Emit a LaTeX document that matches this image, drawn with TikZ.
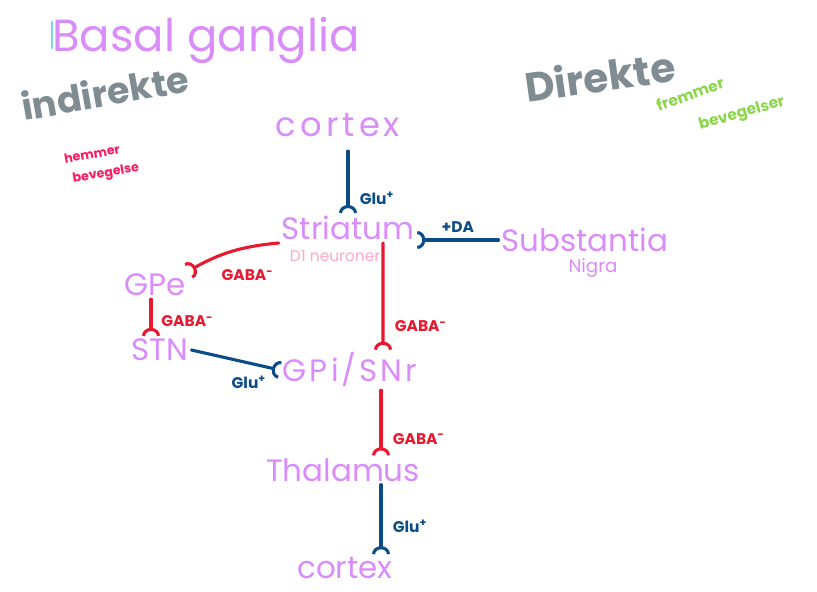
\documentclass[tikz,border=0pt]{standalone}
\usepackage{fontspec}
\setmainfont{Poppins}
\usepackage{tikz}
\usetikzlibrary{arrows.meta}

\definecolor{notelilac}{HTML}{D98CFA}
\definecolor{notegrey}{HTML}{7F8C92}
\definecolor{glublue}{HTML}{0B4C86}
\definecolor{gabared}{HTML}{E8182E}
\definecolor{hotpink}{HTML}{FF1A60}
\definecolor{dpink}{HTML}{FFA6CC}
\definecolor{notegreen}{HTML}{8CD64B}
\definecolor{skyblue}{HTML}{7DD3F7}

\tikzset{
  region/.style={text=notelilac, font=\fontsize{22}{22}\selectfont, inner sep=2pt},
  wide/.style={font=\fontsize{24}{24}\selectfont\addfontfeature{LetterSpace=12}},
  synapse/.style={line width=2.2pt, line cap=round,
    -{Arc Barb[reversed,length=2mm,width=4.5mm,line width=2.2pt]}},
  glu/.style={synapse, draw=glublue},
  gaba/.style={synapse, draw=gabared},
  glutext/.style={text=glublue, font=\bfseries\fontsize{11}{11}\selectfont},
  gabatext/.style={text=gabared, font=\bfseries\fontsize{11}{11}\selectfont}
}

\begin{document}
\begin{tikzpicture}
	\useasboundingbox (0,0) rectangle (20.425,14.8);
	% headings
	\node[text=notelilac, font=\fontsize{32}{32}\selectfont] (title) at (5.15,13.8) {Basal ganglia};
	\draw[skyblue, line width=2pt, line cap=round] (1.3,14.25) -- (1.3,13.6);
	\node[text=notegrey, font=\bfseries\fontsize{26}{26}\selectfont, rotate=10] (indir) at (2.625,12.5) {indirekte};
	\node[text=notegrey, font=\bfseries\fontsize{29}{29}\selectfont, rotate=8] (dir) at (15,12.9) {Direkte};
	\node[text=notegreen, font=\bfseries\fontsize{11}{11}\selectfont, rotate=20] (fremmer) at (17.25,12.45) {fremmer};
	\node[text=notegreen, font=\bfseries\fontsize{11}{11}\selectfont, rotate=16] (beveg) at (18.55,11.95) {bevegelser};
	\node[text=hotpink, font=\bfseries\fontsize{9}{9}\selectfont, rotate=10] (hemmer) at (2.3,10.95) {hemmer};
	\node[text=hotpink, font=\bfseries\fontsize{9}{9}\selectfont, rotate=10] (bevegh) at (2.65,10.45) {bevegelse};

	% regions
	\node[region, wide] (cortexTop) at (8.45,11.675) {cortex};
	\node[region] (striatum) at (8.7,9.1) {Striatum};
	\node[text=dpink, font=\fontsize{11}{11}\selectfont] (d1) at (8.375,8.4) {D1 neuroner};
	\node[region] (substantia) at (14.625,8.8) {Substantia};
	\node[text=notelilac, font=\fontsize{13}{13}\selectfont] (nigra) at (14.825,8.1) {Nigra};
	\node[region] (gpe) at (3.875,7.675) {GPe};
	\node[region] (stn) at (4.0,6.05) {STN};
	\node[region, font=\fontsize{22}{22}\selectfont\addfontfeature{LetterSpace=10}] (gpi) at (8.75,5.55) {GPi/SNr};
	\node[region] (thalamus) at (8.575,3.05) {Thalamus};
	\node[region] (cortexBot) at (8.625,0.6) {cortex};

	% connections
	\draw[glu, shorten <=8pt] (cortexTop.south -| striatum.north) -- (striatum.north)
		node[glutext, pos=0.8, right=4pt] (glu1) {Glu\textsuperscript{+}};
	\draw[glu] (substantia.west) -- (substantia.west -| striatum.east)
		node[glutext, pos=0.5, above=1pt] (da) {+DA};
	\draw[gaba] (striatum.south west) to[bend right=12]
		node[gabatext, pos=0.75, below right=3pt] (gaba1) {GABA\textsuperscript{-}} (gpe.north east);
	\draw[gaba] ([xshift=-0.1cm]gpe.south) -- ([xshift=-0.225cm]stn.north)
		node[gabatext, pos=0.6, right=3pt] (gaba2) {GABA\textsuperscript{-}};
	\draw[gaba] ([xshift=0.875cm]striatum.south) -- ([xshift=0.825cm]gpi.north)
		node[gabatext, pos=0.78, right=4pt] (gaba3) {GABA\textsuperscript{-}};
	\draw[glu] (stn.east) -- (gpi.west)
		node[glutext, pos=0.65, below=5pt] (glu2) {Glu\textsuperscript{+}};
	\draw[gaba] ([xshift=0.775cm]gpi.south) -- ([xshift=0.95cm]thalamus.north)
		node[gabatext, pos=0.75, right=4pt] (gaba4) {GABA\textsuperscript{-}};
	\draw[glu] ([xshift=0.95cm]thalamus.south) -- ([xshift=0.9cm]cortexBot.north)
		node[glutext, pos=0.6, right=4pt] (glu3) {Glu\textsuperscript{+}};
\end{tikzpicture}
\end{document}
